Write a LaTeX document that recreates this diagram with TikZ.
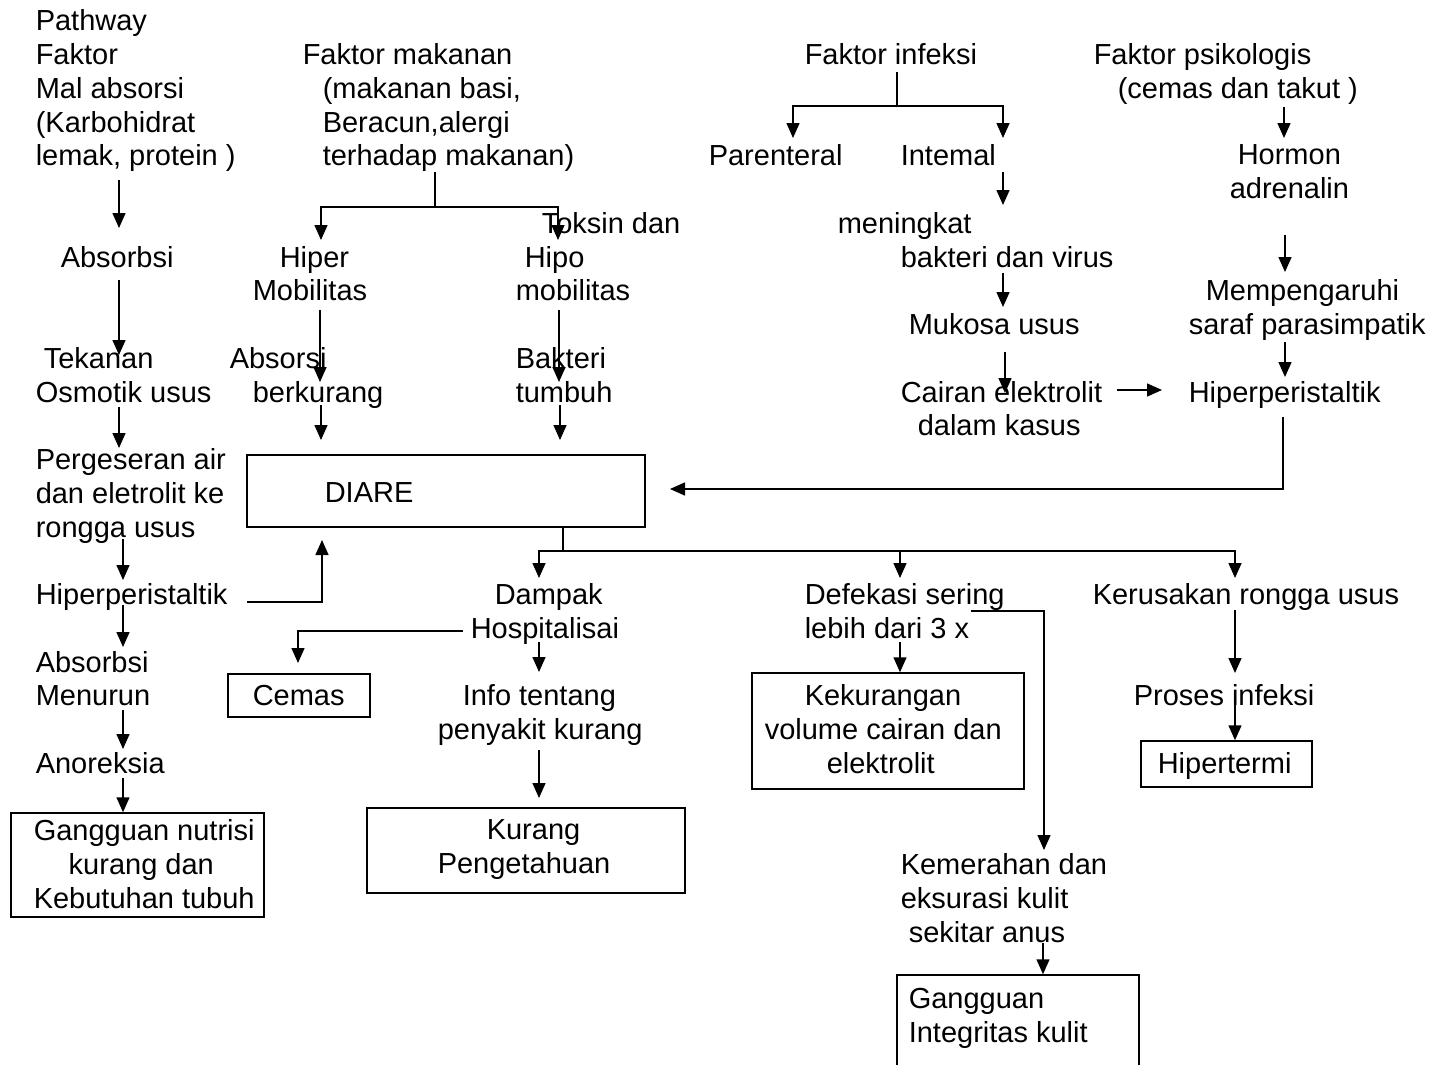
\documentclass[tikz,border=0pt]{standalone}
\usepackage{fontspec}
\setmainfont{Liberation Sans}
\usetikzlibrary{arrows.meta}

\tikzset{
  txt/.style={anchor=north west, inner sep=0pt, align=left,
    font=\fontsize{29}{33.75}\selectfont},
  box/.style={draw, inner sep=0pt},
  arr/.style={-{Triangle[width=13pt,length=15pt]}},
}

\begin{document}
\begin{tikzpicture}[x=1pt,y=-1pt,line width=1.5pt]
	\useasboundingbox (0,0) rectangle (1432,1065);

	% Malabsorption chain (left)
	\node[txt] (pw) at (35,9) {Pathway\\Faktor\\Mal absorsi\\(Karbohidrat\\lemak, protein )};
	\node[txt] (absorbsi) at (60,245.25) {Absorbsi};
	\node[txt] (tekanan) at (35,346.5) {\hspace*{8pt}Tekanan\\Osmotik usus};
	\node[txt] (geser) at (35,447.75) {Pergeseran air\\dan eletrolit ke\\rongga usus};
	\node[txt] (peristL) at (35,582.75) {Hiperperistaltik};
	\node[txt] (menurun) at (35,650.25) {Absorbsi\\Menurun};
	\node[txt] (anoreksia) at (35,751.5) {Anoreksia};
	\node[box, minimum width=253pt, minimum height=104pt] (nutrisi) at (137.5,865) {};
	\node[txt] (nutrisitxt) at (33,819) {Gangguan nutrisi\\\hspace*{35pt}kurang dan\\Kebutuhan tubuh};

	% Food factor
	\node[txt] (makanan) at (302,42.75) {Faktor makanan\\\hspace*{20pt}(makanan basi,\\\hspace*{20pt}Beracun,alergi\\\hspace*{20pt}terhadap makanan)};
	\node[txt] (hiper) at (252,245.25) {\hspace*{27pt}Hiper\\Mobilitas};
	\node[txt] (toksin) at (541,211.5) {Toksin dan};
	\node[txt] (hipo) at (515,245.25) {\hspace*{9pt}Hipo\\mobilitas};
	\node[txt] (absorsi) at (229,346.5) {Absorsi\\\hspace*{23pt}berkurang};
	\node[txt] (bakteri) at (515,346.5) {Bakteri\\tumbuh};
	\node[box, minimum width=398pt, minimum height=72pt] (diare) at (446,491) {};
	\node[txt] (diaretxt) at (324,481.5) {DIARE};

	% Infection factor
	\node[txt] (infeksi) at (804,42.75) {Faktor infeksi};
	\node[txt] (parenteral) at (708,144) {Parenteral};
	\node[txt] (intemal) at (900,144) {Intemal};
	\node[txt] (meningkat) at (837,211.5) {meningkat\\\hspace*{63pt}bakteri dan virus};
	\node[txt] (mukosa) at (908,312.75) {Mukosa usus};
	\node[txt] (cairan) at (900,380.25) {Cairan elektrolit\\\hspace*{17pt}dalam kasus};

	% Psychological factor
	\node[txt] (psiko) at (1093,42.75) {Faktor psikologis\\\hspace*{24pt}(cemas dan takut )};
	\node[txt] (hormon) at (1229,144) {\hspace*{8pt}Hormon\\adrenalin};
	\node[txt] (mempeng) at (1188,279) {\hspace*{17pt}Mempengaruhi\\saraf parasimpatik};
	\node[txt] (peristR) at (1188,380.25) {Hiperperistaltik};

	% Effects below DIARE
	\node[txt] (dampak) at (470,582.75) {\hspace*{24pt}Dampak\\Hospitalisai};
	\node[box, minimum width=142pt, minimum height=43pt] (cemas) at (299,695.5) {};
	\node[txt] (cemastxt) at (252,684) {Cemas};
	\node[txt] (info) at (437,684) {\hspace*{25pt}Info tentang\\penyakit kurang};
	\node[box, minimum width=318pt, minimum height=85pt] (kurang) at (526,850.5) {};
	\node[txt] (kurangtxt) at (437,819) {\hspace*{49pt}Kurang\\Pengetahuan};

	\node[txt] (defekasi) at (804,582.75) {Defekasi sering\\lebih dari 3 x};
	\node[box, minimum width=272pt, minimum height=116pt] (kekurangan) at (888,731) {};
	\node[txt] (kekurangantxt) at (764,684) {\hspace*{40pt}Kekurangan\\volume cairan dan\\\hspace*{62pt}elektrolit};
	\node[txt] (kemerahan) at (900,852.75) {Kemerahan dan\\eksurasi kulit\\\hspace*{8pt}sekitar anus};
	\node[box, minimum width=242pt, minimum height=130pt] (integritas) at (1018,1040) {};
	\node[txt] (integritastxt) at (908,987.75) {Gangguan\\Integritas kulit};

	\node[txt] (kerusakan) at (1092,582.75) {Kerusakan rongga usus};
	\node[txt] (proses) at (1133,684) {Proses infeksi};
	\node[box, minimum width=171pt, minimum height=46pt] (hipertermi) at (1226.5,764) {};
	\node[txt] (hipertermitxt) at (1157,751.5) {Hipertermi};

	% Arrows, left chain
	\coordinate (pwS) at (119,180);   \coordinate (absN) at (119,228);
	\coordinate (absS) at (119,280);  \coordinate (tekN) at (119,355);
	\coordinate (tekS) at (119,407);  \coordinate (gesN) at (119,448);
	\coordinate (gesS) at (123,539);  \coordinate (perN) at (123,580);
	\coordinate (perS) at (123,605);  \coordinate (menN) at (123,647);
	\coordinate (menS) at (123,710);  \coordinate (anoN) at (123,749);
	\coordinate (anoS) at (123,778);
	\draw[arr] (pwS) -- (absN);
	\draw[arr] (absS) -- (tekN);
	\draw[arr] (tekS) -- (gesN);
	\draw[arr] (gesS) -- (perN);
	\draw[arr] (perS) -- (menN);
	\draw[arr] (menS) -- (anoN);
	\draw[arr] (anoS) -- (anoS |- nutrisi.north);
	\coordinate (perE) at (247,602);  \coordinate (diaUp) at (322,540);
	\draw[arr] (perE) -| (diaUp);

	% Arrows, food factor
	\coordinate (makS) at (435,172);  \coordinate (makJ) at (435,207);
	\coordinate (hiperN) at (321,240); \coordinate (hipoN) at (558,240);
	\draw (makS) -- (makJ);
	\draw[arr] (makJ) -| (hiperN);
	\draw[arr] (makJ) -| (hipoN);
	\coordinate (hiperS) at (320,310); \coordinate (absorsiN) at (320,382);
	\coordinate (absorsiS) at (321,405); \coordinate (absorsiE) at (321,440);
	\draw[arr] (hiperS) -- (absorsiN);
	\draw[arr] (absorsiS) -- (absorsiE);
	\coordinate (hipoS) at (559,310); \coordinate (bakN) at (559,382);
	\coordinate (bakS) at (560,405);  \coordinate (bakE) at (560,440);
	\draw[arr] (hipoS) -- (bakN);
	\draw[arr] (bakS) -- (bakE);

	% Arrows, infection factor
	\coordinate (infS) at (897,72);   \coordinate (infJ) at (897,106);
	\coordinate (parN) at (793,138);  \coordinate (intN) at (1003,138);
	\draw (infS) -- (infJ);
	\draw[arr] (infJ) -| (parN);
	\draw[arr] (infJ) -| (intN);
	\coordinate (intS) at (1003,172); \coordinate (menkN) at (1003,205);
	\coordinate (menkS) at (1003,273); \coordinate (mukN) at (1003,307);
	\coordinate (mukS) at (1005,352); \coordinate (caiN) at (1005,393);
	\draw[arr] (intS) -- (menkN);
	\draw[arr] (menkS) -- (mukN);
	\draw[arr] (mukS) -- (caiN);
	\coordinate (caiE) at (1117,390); \coordinate (perRW) at (1162,390);
	\draw[arr] (caiE) -- (perRW);

	% Arrows, psychological factor
	\coordinate (psiS) at (1284,107); \coordinate (horN) at (1284,138);
	\coordinate (horS) at (1285,235); \coordinate (mpgN) at (1285,272);
	\coordinate (mpgS) at (1285,342); \coordinate (perRN) at (1285,377);
	\draw[arr] (psiS) -- (horN);
	\draw[arr] (horS) -- (mpgN);
	\draw[arr] (mpgS) -- (perRN);
	\coordinate (perRS) at (1283,417); \coordinate (diaE) at (670,489);
	\draw[arr] (perRS) |- (diaE);

	% Arrows out of DIARE
	\coordinate (diaJ) at (563,551);
	\coordinate (dmpN) at (539,578); \coordinate (defN) at (900,578); \coordinate (kerN) at (1235,578);
	\draw (diare.south -| diaJ) -- (diaJ);
	\draw[arr] (diaJ) -| (dmpN);
	\draw[arr] (diaJ) -| (defN);
	\draw[arr] (diaJ) -| (kerN);

	\coordinate (hosW) at (463,631); \coordinate (cemN) at (298,663);
	\draw[arr] (hosW) -| (cemN);
	\coordinate (hosS) at (539,642); \coordinate (infoN) at (539,672);
	\coordinate (infoS) at (539,750); \coordinate (kurN) at (539,798);
	\draw[arr] (hosS) -- (infoN);
	\draw[arr] (infoS) -- (kurN);

	\coordinate (lebS) at (900,642);
	\draw[arr] (lebS) -- (lebS |- kekurangan.north);
	\coordinate (defE) at (971,611); \coordinate (kemN) at (1044,850);
	\draw[arr] (defE) -| (kemN);
	\coordinate (kemS) at (1043,943);
	\draw[arr] (kemS) -- (kemS |- integritas.north);

	\coordinate (kerS) at (1235,610); \coordinate (proN) at (1235,673);
	\coordinate (proS) at (1235,693);
	\draw[arr] (kerS) -- (proN);
	\draw[arr] (proS) -- (proS |- hipertermi.north);
\end{tikzpicture}
\end{document}
